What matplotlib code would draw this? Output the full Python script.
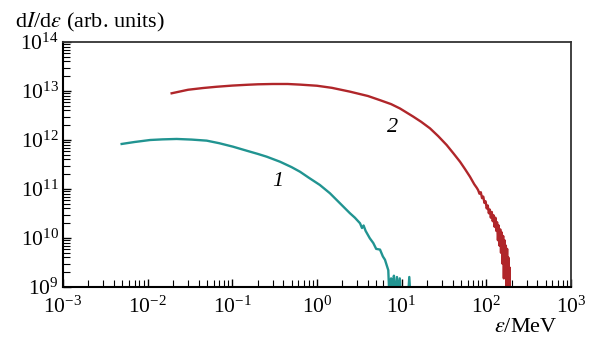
import matplotlib
matplotlib.use("Agg")
import matplotlib.pyplot as plt
from matplotlib.ticker import FixedLocator, NullFormatter, LogFormatterSciNotation
import numpy as np

plt.rcParams['font.family'] = ['Liberation Serif', 'DejaVu Serif']
plt.rcParams['mathtext.fontset'] = 'stix'

# Curve 1 (teal)
eps1 = [0.00493, 0.007, 0.0107, 0.015, 0.022, 0.033, 0.0498, 0.07, 0.102, 0.15,
        0.2, 0.255, 0.3, 0.366, 0.5, 0.63, 0.8, 1.08, 1.42, 1.87, 2.45, 2.8,
        3.22, 3.4, 3.55, 3.75, 4.2, 4.62, 5.0, 5.55, 6.0, 6.35, 6.95, 7.2, 7.5,
        7.8, 8.1, 8.4, 8.8, 9.1, 9.5, 9.8, 11.8, 12.3, 12.8]
I1 = [8.3e11, 9.1e11, 1.0e12, 1.03e12, 1.05e12, 1.02e12, 9.7e11, 8.6e11, 7.3e11, 6.0e11,
      5.2e11, 4.56e11, 4.1e11, 3.6e11, 2.8e11, 2.25e11, 1.7e11, 1.21e11, 8.2e10, 5.1e10,
      3.2e10, 2.6e10, 2.0e10, 1.6e10, 1.8e10, 1.4e10, 9.9e9, 7.9e9, 6.0e9,
      5.8e9, 4.2e9, 3.6e9, 2.2e9, 0.5e9, 1.5e9, 0.8e9, 1.7e9, 0.6e9, 1.6e9, 0.7e9, 1.5e9,
      0.5e9, 0.5e9, 1.6e9, 0.5e9]

# Curve 2 (red)
eps2 = [0.0192, 0.03, 0.045, 0.065, 0.1, 0.15, 0.2, 0.3, 0.45, 0.63, 1.0, 1.5, 2.45,
        4.0, 5.55, 7.5, 9.55, 13.7, 17, 21.6, 27, 34, 41, 48.9, 56, 64.1, 72, 77,
        80, 83, 86, 89, 92, 95, 98, 101, 104, 107, 110, 113, 116, 119, 122, 125, 128,
        131, 134, 137, 140, 143, 146, 149, 152, 155, 158, 161, 164, 167, 170, 173, 176,
        179, 182, 185, 188, 191]
I2 = [8.98e12, 1.06e13, 1.15e13, 1.22e13, 1.29e13, 1.34e13, 1.37e13, 1.39e13, 1.39e13,
      1.35e13, 1.28e13, 1.16e13, 9.7e12, 7.9e12, 6.5e12, 5.4e12, 4.4e12, 3.0e12, 2.35e12,
      1.73e12, 1.2e12, 7.9e11, 5.3e11, 3.6e11, 2.55e11, 1.78e11, 1.25e11, 1.06e11,
      9.5e10, 8.0e10, 8.6e10, 6.5e10, 7.0e10, 5.2e10, 5.6e10, 4.0e10, 4.6e10, 3.2e10,
      3.8e10, 2.6e10, 3.4e10, 2.2e10, 2.9e10, 1.7e10, 2.6e10, 1.4e10, 2.1e10, 0.9e10,
      1.8e10, 0.7e10, 1.5e10, 0.5e10, 1.3e10, 0.3e10, 1.1e10, 0.15e10, 0.9e10, 0.2e10,
      0.7e10, 0.08e10, 0.6e10, 0.05e10, 0.4e10, 0.05e10, 0.25e10, 0.02e10]

x_decades = [1e-3, 1e-2, 1e-1, 1e0, 1e1, 1e2, 1e3]
y_decades = [1e9, 1e10, 1e11, 1e12, 1e13, 1e14]

fig = plt.figure(figsize=(6.01, 3.38), dpi=100)
ax = fig.add_axes([63/601, 1-287/338, (571-63)/601, (287-42)/338])

ax.plot(eps1, I1, color='#219491', lw=1.7)
ax.plot(eps2, I2, color='#b0262a', lw=1.7)

ax.set_xscale('log')
ax.set_yscale('log')
ax.set_xlim(x_decades[0], x_decades[-1])
ax.set_ylim(y_decades[0], y_decades[-1])

for a, dec in ((ax.xaxis, x_decades), (ax.yaxis, y_decades)):
    minors = [d * k for d in dec[:-1] for k in range(2, 10)]
    a.set_major_locator(FixedLocator(dec))
    a.set_minor_locator(FixedLocator(minors))
    a.set_minor_formatter(NullFormatter())
    a.set_major_formatter(LogFormatterSciNotation())

ax.tick_params(which='both', direction='in', top=False, right=False, color='black')
ax.tick_params(which='major', length=6, width=1.0, labelsize=15.5)
ax.tick_params(which='minor', length=5, width=0.8)
ax.tick_params(axis='x', which='major', pad=7)
ax.tick_params(axis='y', which='major', pad=3)

for s in ('left', 'bottom'):
    ax.spines[s].set_linewidth(1.5)
    ax.spines[s].set_color('black')
for s in ('top', 'right'):
    ax.spines[s].set_linewidth(1.3)
    ax.spines[s].set_color('#333333')

fig.text(15/601, 1-27/338, r'd$I$/d$\varepsilon$ (arb. units)', fontsize=16,
         ha='left', va='baseline')
fig.text(558/601, 1-332/338, r'$\varepsilon$/MeV', fontsize=16,
         ha='right', va='baseline')

ax.text(0.346, 1.39e11, '1', fontsize=16, style='italic', ha='center', va='center')
ax.text(7.9, 1.84e12, '2', fontsize=16, style='italic', ha='center', va='center')

fig.savefig('out.png', dpi=100)
